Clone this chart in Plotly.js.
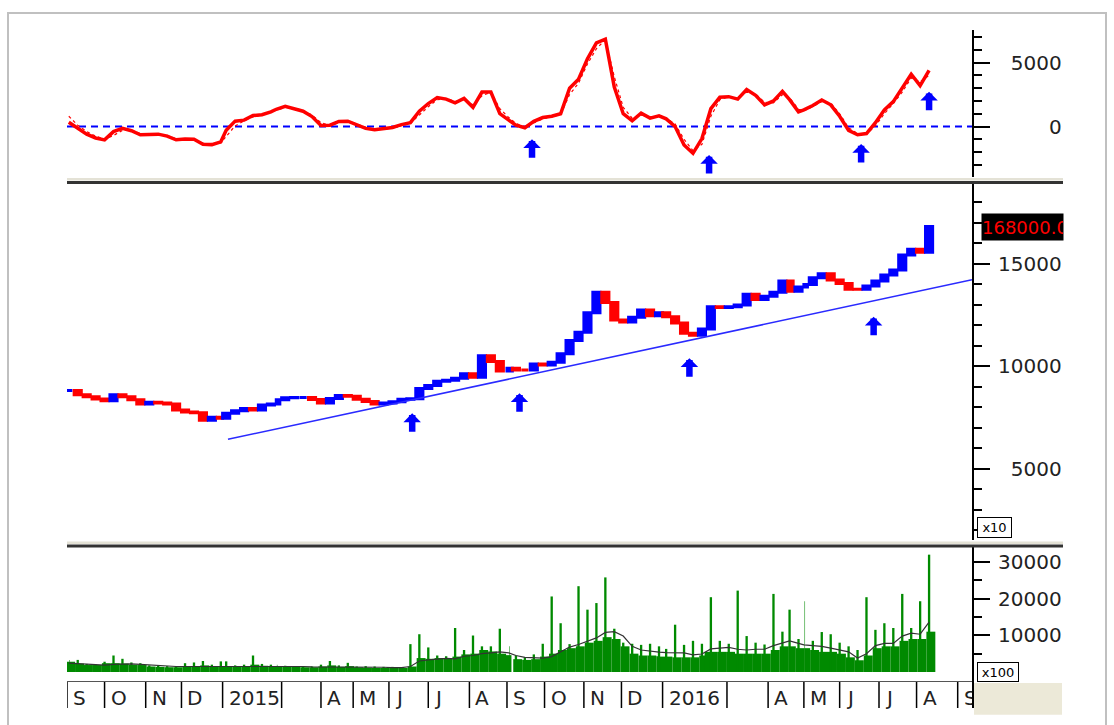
<!DOCTYPE html>
<html><head><meta charset="utf-8">
<script src="https://cdn.plot.ly/plotly-3.0.1.min.js"></script>
<style>html,body{margin:0;padding:0;background:#fff;}#chart{width:1114px;height:725px;}</style>
</head><body><div id="chart"></div>
<script>
// ---- data (weekly samples) ----
const dates = [
'2014-09-03','2014-09-10','2014-09-17','2014-09-24','2014-10-01','2014-10-08','2014-10-15','2014-10-22','2014-10-29',
'2014-11-05','2014-11-12','2014-11-19','2014-11-26','2014-12-03','2014-12-10','2014-12-17','2014-12-24','2014-12-31',
'2015-01-07','2015-01-14','2015-01-21','2015-01-28','2015-02-04','2015-02-11','2015-02-25','2015-03-04','2015-03-11','2015-03-18','2015-03-25',
'2015-04-01','2015-04-08','2015-04-15','2015-04-22','2015-05-06','2015-05-13','2015-05-20','2015-05-27',
'2015-06-03','2015-06-10','2015-06-17','2015-06-24','2015-07-01','2015-07-08','2015-07-15','2015-07-22','2015-07-29',
'2015-08-05','2015-08-12','2015-08-19','2015-08-26','2015-09-03','2015-09-09','2015-09-16','2015-09-23','2015-09-30',
'2015-10-07','2015-10-14','2015-10-21','2015-10-28','2015-11-04','2015-11-11','2015-11-18','2015-11-25',
'2015-12-02','2015-12-09','2015-12-16','2015-12-23','2015-12-30','2016-01-06','2016-01-13','2016-01-20','2016-01-27',
'2016-02-03','2016-02-17','2016-02-24','2016-03-02','2016-03-09','2016-03-16','2016-03-23','2016-03-30',
'2016-04-06','2016-04-13','2016-04-20','2016-04-27','2016-05-04','2016-05-11','2016-05-18','2016-05-25',
'2016-06-01','2016-06-08','2016-06-15','2016-06-22','2016-06-29','2016-07-06','2016-07-13','2016-07-20','2016-07-27',
'2016-08-03','2016-08-10'];

const priceClose = [
8800,8600,8500,8390,8310,8600,8500,8350,8150,
8230,8190,8150,7850,7760,7720,7350,7500,7450,
7700,7820,7930,7850,8100,8150,8350,8450,8460,8460,8370,
8200,8420,8560,8520,8380,8270,8150,8200,
8260,8380,8400,8900,9050,9250,9300,9400,9620,
9450,10500,10220,9750,9890,9800,9800,10100,10050,
10180,10600,11250,11650,12600,13600,13100,12250,
12150,12380,12730,12450,12600,12400,12100,11600,11500,
11800,12890,12850,12890,12980,13500,13250,13400,
13600,14150,13650,13850,13980,14300,14500,14200,
14030,13750,13740,13900,14150,14440,14680,15410,15700,
15550,16800];

const osc = [
330,-150,-600,-900,-1050,-400,-150,-330,-650,
-620,-600,-750,-1040,-980,-1000,-1400,-1420,-1200,
-300,420,500,860,920,1150,1350,1580,1400,1200,780,
80,100,400,420,120,-150,-260,-200,
-80,150,300,1200,1800,2270,2150,1850,2200,
1500,2700,2700,1000,500,100,-100,400,700,
800,1000,3000,3700,5300,6550,6850,3100,
1000,450,1050,660,840,600,0,-1450,-2100,
-950,1400,2300,2340,2150,2900,2450,1700,
2000,2750,2100,1150,1300,1650,2080,1700,
800,-300,-650,-550,300,1300,1950,3000,4100,
3200,4400];

const oscSignal = [
800,100,-400,-750,-1000,-700,-300,-280,-550,
-620,-600,-700,-950,-1000,-1000,-1300,-1400,-1280,
-750,50,450,750,900,1100,1280,1500,1450,1250,900,
300,60,300,420,200,-60,-220,-220,
-120,80,250,900,1550,2100,2200,1950,2100,
1700,2400,2700,1400,700,250,-50,250,600,
750,950,2500,3400,4900,6100,6800,3900,
1500,650,900,750,800,650,200,-1000,-1900,
-1400,800,2100,2350,2200,2700,2550,1900,
1850,2500,2250,1350,1250,1550,1950,1850,
1000,-100,-550,-600,50,1000,1800,2700,3800,
3500,4000];

const volBase = [
2800,2300,1900,1900,2400,2400,2300,2000,1900,
1500,1400,1300,1300,1400,1500,1800,1500,1400,
1600,1500,1500,2000,1700,1600,1500,1500,1400,1300,1300,
1500,1800,1400,1600,1300,1200,1100,1100,
1100,1100,1500,3800,3600,3800,3700,4200,4800,
5000,6000,5600,5000,4600,3500,3300,3500,4200,
5000,6000,6500,7000,8000,8500,9500,9000,
7000,5000,4500,4500,4300,4200,4000,4000,4000,
4500,5500,5500,5500,5000,5000,5000,5000,
6000,7000,7000,6500,6500,6000,5500,5500,
5000,4000,3200,4500,6500,7000,7000,8500,9000,
9000,11000];

const volPeak = [
3300,3300,2200,2000,2800,4500,3600,2600,2400,
1800,1700,1600,1600,2400,2600,3000,2000,2900,
2900,1800,2000,4500,2200,2000,2000,1700,1600,1600,1500,
2000,3000,1800,2500,1500,1600,1500,1400,
1400,1300,7600,10300,6700,4500,4300,12000,6000,
9950,7000,7000,11800,7000,4500,4000,4800,7700,
20600,13300,7600,23400,17000,18800,25800,11800,
8000,7700,7400,7700,7000,6300,12900,7400,8500,
7700,20400,8500,7700,22200,9800,8000,7500,
21300,11000,17000,9000,19300,8500,10900,10300,
8000,7000,6000,20400,11500,13300,12000,21300,12000,
19300,32000];

const volMA = [
2400,2300,2100,2000,1900,2100,2200,2200,2100,
1900,1700,1500,1500,1500,1500,1600,1600,1600,
1600,1600,1500,1600,1700,1700,1700,1600,1500,1500,1400,
1400,1500,1500,1500,1500,1400,1300,1300,
1200,1200,1500,3000,3300,3500,3700,3600,4300,
4500,5000,5200,5500,5200,4500,4000,3800,3800,
4200,5500,6800,7500,8300,9300,10800,11000,
9800,7000,6000,5600,5400,5300,5200,5200,4700,
4900,6300,6600,6700,6200,6000,6200,6200,
7200,8000,8500,7800,7400,7200,7000,6500,
6100,5500,3800,5000,7200,7800,7800,9800,10600,
10300,13600];

const trendDates = ['2015-01-08','2016-09-14'];
const trendValues = [6424, 14210];

const priceArrowDates = ['2015-06-18','2015-09-11','2016-01-25','2016-06-28'];
const priceArrowValues = [7690, 8668, 10375, 12400];
const oscArrowDates = ['2015-09-22','2016-02-16','2016-06-17','2016-08-10'];
const oscArrowValues = [-1003, -2233, -1371, 2727];

const monthTicks = ['2014-09-01','2014-10-01','2014-11-03','2014-12-01','2015-01-05','2015-03-02','2015-04-01','2015-05-04',
'2015-06-01','2015-07-01','2015-08-03','2015-09-01','2015-10-01','2015-11-02','2015-12-01','2016-01-04','2016-03-01',
'2016-04-01','2016-05-04','2016-06-01','2016-07-01','2016-08-01','2016-09-01'];
const monthLabels = ['S','O','N','D','2015','','A','M','J','J','A','S','O','N','D','2016','','A','M','J','J','A','S'];

const holidays = ['2014-09-02','2015-01-01','2015-01-02','2015-02-16','2015-02-17','2015-02-18','2015-02-19','2015-02-20',
'2015-02-23','2015-02-24','2015-04-27','2015-04-28','2015-04-29','2015-04-30','2015-05-01','2015-09-02',
'2016-01-01','2016-02-08','2016-02-09','2016-02-10','2016-02-11','2016-02-12','2016-04-18','2016-05-02','2016-05-03','2016-09-02'];

const oscTickVals = [0, 5000], oscTickText = ['\u2007\u2007\u2007\u20070', '\u20075000'];
const priceTickVals = [5000, 10000, 15000], priceTickText = ['\u20075000', '10000', '15000'];
const volTickVals = [10000, 20000, 30000], volTickText = ['10000', '20000', '30000'];

// ---- build ----
const priceOpen = priceClose.map((c, i) => i === 0 ? c : priceClose[i - 1]);
const priceHigh = priceClose.map((c, i) => Math.max(c, priceOpen[i]));
const priceLow = priceClose.map((c, i) => Math.min(c, priceOpen[i]));
const DAY = 86400000;
const FONT = 'DejaVu Sans';

const traces = [
  {type:'scatter', mode:'lines', x:dates, y:oscSignal, yaxis:'y', line:{color:'#ff0000', width:1.2, dash:'dot'}, hoverinfo:'skip'},
  {type:'scatter', mode:'lines', x:dates, y:osc, yaxis:'y', line:{color:'#ff0000', width:3.5}, hoverinfo:'skip'},
  {type:'scatter', mode:'lines', x:trendDates, y:trendValues, yaxis:'y2', line:{color:'#2a2aff', width:1.6}, hoverinfo:'skip'},
  {type:'candlestick', x:dates, open:priceOpen, high:priceHigh, low:priceLow, close:priceClose, yaxis:'y2',
   increasing:{line:{color:'#0000ff', width:3}, fillcolor:'#0000ff'},
   decreasing:{line:{color:'#ff0000', width:3}, fillcolor:'#ff0000'},
   whiskerwidth:0, hoverinfo:'skip'},
  {type:'bar', x:dates, y:volBase, yaxis:'y3', width:dates.map(()=>7*DAY), marker:{color:'#008a00', line:{width:0}}, hoverinfo:'skip'},
  {type:'bar', x:dates, y:volPeak, yaxis:'y3', width:dates.map(()=>1.3*DAY), marker:{color:'#008a00', line:{width:0}}, hoverinfo:'skip'},
  {type:'scatter', mode:'lines', x:dates, y:volMA, yaxis:'y3', line:{color:'#333333', width:1.2}, hoverinfo:'skip'}
];

// pixel helpers for paper coords (plot area x 67..972, y 30..708)
const px = p => (p - 67) / 905;
const py = p => (708 - p) / 678;

function yAxis(domain, range, vals, text, minorVals) {
  return {domain, range, side:'right', anchor:'x', showline:true, linecolor:'#000', linewidth:2,
    ticks:'outside', ticklen:16, tickwidth:2, tickcolor:'#000', tickmode:'array', tickvals:vals, ticktext:text,
    minor:minorVals, showgrid:false, zeroline:false, ticklabelstandoff:4,
    tickfont:{family:FONT, size:20, color:'#222'}, fixedrange:true};
}

const shapes = [];
shapes.push({type:'line', xref:'paper', x0:0, x1:1, yref:'y', y0:0, y1:0, layer:'below', line:{color:'#0000ff', width:2, dash:'7px,5px'}});
[[178,181],[541.5,544.5]].forEach(([a,b]) => {
  shapes.push({type:'rect', xref:'paper', x0:0, x1:px(1063), yref:'paper', y0:py(a+2.5), y1:py(a), line:{width:0}, fillcolor:'#e4e2d6', layer:'above'});
  shapes.push({type:'rect', xref:'paper', x0:0, x1:px(1063), yref:'paper', y0:py(b+3), y1:py(b), line:{width:0}, fillcolor:'#333333', layer:'above'});
});
shapes.push({type:'line', xref:'paper', x0:0, x1:1, yref:'paper', y0:py(681.5), y1:py(681.5), line:{color:'#555', width:1}, layer:'above'});
monthTicks.forEach(d => shapes.push({type:'line', xref:'x', x0:d, x1:d, yref:'paper', y0:0, y1:py(682), line:{color:'#000', width:1.5}, layer:'above'}));
shapes.push({type:'rect', xref:'paper', x0:px(974), x1:px(1062), yref:'paper', y0:-0.01, y1:py(683), line:{width:0}, fillcolor:'#ece9d8', layer:'above'});
shapes.push({type:'rect', xref:'paper', x0:px(8), x1:px(1106), yref:'paper', y0:py(760), y1:py(13), line:{color:'#c0c0c0', width:2}, fillcolor:'rgba(0,0,0,0)', layer:'above'});

const annotations = [];
monthLabels.forEach((t, i) => {
  if (!t) return;
  const a = {x:monthTicks[i], xref:'x', xanchor:'left', xshift:4, y:py(698), yref:'paper', yanchor:'middle',
    text:t, showarrow:false, font:{family:FONT, size:20, color:'#222'}, align:'left'};
  if (i === monthLabels.length - 1) { a.width = 8; }
  annotations.push(a);
});
priceArrowDates.forEach((d, i) => annotations.push({x:d, y:priceArrowValues[i], xref:'x', yref:'y2', text:'', showarrow:true,
  ax:0, ay:20, arrowhead:1, arrowsize:0.45, arrowwidth:6.5, arrowcolor:'#0000ff', standoff:0}));
oscArrowDates.forEach((d, i) => annotations.push({x:d, y:oscArrowValues[i], xref:'x', yref:'y', text:'', showarrow:true,
  ax:0, ay:20, arrowhead:1, arrowsize:0.45, arrowwidth:6.5, arrowcolor:'#0000ff', standoff:0}));
annotations.push({x:px(981), xref:'paper', xanchor:'left', y:priceClose[priceClose.length-1], yref:'y2', yanchor:'middle',
  text:(priceClose[priceClose.length-1]*10).toFixed(1), showarrow:false, width:81, height:26, align:'left',
  bgcolor:'#000', borderpad:0, font:{family:FONT, size:18, color:'#ff0000'}});
annotations.push({x:px(977), xref:'paper', xanchor:'left', y:py(538), yref:'paper', yanchor:'bottom', text:'x10', showarrow:false,
  width:33, height:19, bgcolor:'#fff', bordercolor:'#000', borderwidth:1, borderpad:0, font:{family:FONT, size:13, color:'#000'}});
annotations.push({x:px(977), xref:'paper', xanchor:'left', y:py(682), yref:'paper', yanchor:'bottom', text:'x100', showarrow:false,
  width:40, height:18, bgcolor:'#fff', bordercolor:'#000', borderwidth:1, borderpad:0, font:{family:FONT, size:13, color:'#000'}});

const layout = {
  width:1114, height:725, margin:{l:67, r:142, t:30, b:17},
  paper_bgcolor:'#fff', plot_bgcolor:'#fff', showlegend:false, barmode:'overlay', boxgap:0.05,
  font:{family:FONT, size:20, color:'#222'},
  xaxis:{type:'date', range:['2014-09-01','2016-09-14'], rangebreaks:[{bounds:['sat','mon']},{values:holidays}],
    showticklabels:false, ticks:'', showgrid:false, zeroline:false, showline:false, rangeslider:{visible:false}, anchor:'y3', fixedrange:true},
  yaxis: yAxis([py(177), 1], [-3958, 7563], oscTickVals, oscTickText, {dtick:1000, tick0:0, ticks:'outside', ticklen:8, tickwidth:2, tickcolor:'#000'}),
  yaxis2: yAxis([py(540), py(183)], [1512, 18927], priceTickVals, priceTickText, {dtick:1000, tick0:0, ticks:'outside', ticklen:8, tickwidth:2, tickcolor:'#000'}),
  yaxis3: yAxis([0, py(547)], [-9818, 34090], volTickVals, volTickText, {tickmode:'array', tickvals:[5000,15000,25000], ticks:'outside', ticklen:8, tickwidth:2, tickcolor:'#000'}),
  shapes, annotations
};

Plotly.newPlot('chart', traces, layout, {staticPlot:true, displayModeBar:false});
</script></body></html>
